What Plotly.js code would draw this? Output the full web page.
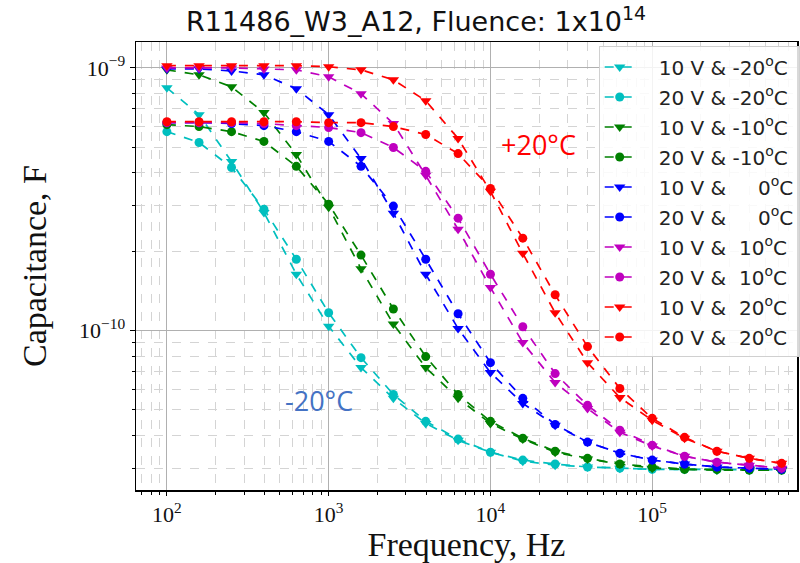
<!DOCTYPE html>
<html>
<head>
<meta charset="utf-8">
<script src="https://cdn.plot.ly/plotly-3.0.1.min.js"></script>
<style>html,body{margin:0;padding:0;background:#fff;}#chart{width:800px;height:563px;}</style>
</head>
<body>
<div id="chart"></div>
<script>
const freqHz = [100, 158, 251, 398, 631, 1000, 1585, 2512, 3981, 6310, 10000, 15849, 25119, 39811, 63096, 100000, 158489, 251189, 398107, 630957];

const c10V_m20 = [8.40e-10, 6.64e-10, 4.40e-10, 2.82e-10, 1.64e-10, 1.04e-10, 7.24e-11, 5.53e-11, 4.44e-11, 3.83e-11, 3.45e-11, 3.19e-11, 3.08e-11, 3.03e-11, 3.00e-11, 2.97e-11, 2.97e-11, 2.96e-11, 2.96e-11, 2.96e-11];
const c20V_m20 = [5.72e-10, 5.20e-10, 4.18e-10, 2.90e-10, 1.87e-10, 1.17e-10, 7.90e-11, 5.72e-11, 4.52e-11, 3.87e-11, 3.45e-11, 3.22e-11, 3.11e-11, 3.03e-11, 3.00e-11, 2.97e-11, 2.97e-11, 2.96e-11, 2.95e-11, 2.95e-11];
const c10V_m10 = [9.83e-10, 9.41e-10, 8.47e-10, 6.76e-10, 4.68e-10, 2.95e-10, 1.72e-10, 1.06e-10, 7.24e-11, 5.53e-11, 4.44e-11, 3.87e-11, 3.45e-11, 3.25e-11, 3.11e-11, 3.00e-11, 2.97e-11, 2.95e-11, 2.95e-11, 2.95e-11];
const c20V_m10 = [6.08e-10, 5.98e-10, 5.72e-10, 5.25e-10, 4.22e-10, 3.03e-10, 1.94e-10, 1.21e-10, 7.97e-11, 5.72e-11, 4.52e-11, 3.90e-11, 3.48e-11, 3.27e-11, 3.11e-11, 3.03e-11, 2.97e-11, 2.97e-11, 2.95e-11, 2.95e-11];
const c10V_0 = [9.91e-10, 9.91e-10, 9.74e-10, 9.41e-10, 8.33e-10, 6.64e-10, 4.52e-10, 2.80e-10, 1.64e-10, 1.02e-10, 6.93e-11, 5.29e-11, 4.37e-11, 3.77e-11, 3.42e-11, 3.22e-11, 3.11e-11, 3.03e-11, 3.00e-11, 2.97e-11];
const c20V_0 = [6.19e-10, 6.19e-10, 6.14e-10, 6.03e-10, 5.72e-10, 5.25e-10, 4.22e-10, 2.98e-10, 1.87e-10, 1.16e-10, 7.56e-11, 5.53e-11, 4.40e-11, 3.77e-11, 3.42e-11, 3.22e-11, 3.11e-11, 3.03e-11, 3.00e-11, 2.97e-11];
const c10V_10 = [1.00e-9, 1.00e-9, 1.00e-9, 9.91e-10, 9.83e-10, 9.25e-10, 7.97e-10, 6.14e-10, 3.90e-10, 2.43e-10, 1.46e-10, 9.01e-11, 6.35e-11, 5.06e-11, 4.11e-11, 3.64e-11, 3.33e-11, 3.16e-11, 3.08e-11, 3.00e-11];
const c20V_10 = [6.19e-10, 6.19e-10, 6.19e-10, 6.14e-10, 6.03e-10, 5.93e-10, 5.67e-10, 4.98e-10, 4.04e-10, 2.68e-10, 1.64e-10, 1.035e-10, 6.87e-11, 5.20e-11, 4.18e-11, 3.67e-11, 3.33e-11, 3.16e-11, 3.08e-11, 3.00e-11];
const c10V_20 = [1.02e-9, 1.02e-9, 1.02e-9, 1.02e-9, 1.02e-9, 1.01e-9, 9.83e-10, 9.01e-10, 7.50e-10, 5.39e-10, 3.39e-10, 1.97e-10, 1.17e-10, 7.56e-11, 5.57e-11, 4.56e-11, 3.90e-11, 3.48e-11, 3.27e-11, 3.13e-11];
const c20V_20 = [6.24e-10, 6.24e-10, 6.24e-10, 6.24e-10, 6.24e-10, 6.19e-10, 6.19e-10, 5.98e-10, 5.58e-10, 4.72e-10, 3.48e-10, 2.25e-10, 1.37e-10, 8.70e-11, 6.03e-11, 4.64e-11, 3.93e-11, 3.48e-11, 3.27e-11, 3.13e-11];

const seriesNames = [
  "10 V & -20<sup>o</sup>C", "20 V & -20<sup>o</sup>C",
  "10 V & -10<sup>o</sup>C", "20 V & -10<sup>o</sup>C",
  "10 V &\u00a0\u00a0\u00a0\u00a0\u00a00<sup>o</sup>C", "20 V &\u00a0\u00a0\u00a0\u00a0\u00a00<sup>o</sup>C",
  "10 V &\u00a0\u00a010<sup>o</sup>C", "20 V &\u00a0\u00a010<sup>o</sup>C",
  "10 V &\u00a0\u00a020<sup>o</sup>C", "20 V &\u00a0\u00a020<sup>o</sup>C"
];
const seriesValues = [c10V_m20, c20V_m20, c10V_m10, c20V_m10, c10V_0, c20V_0, c10V_10, c20V_10, c10V_20, c20V_20];
const seriesColors = ["#00BFBF", "#00BFBF", "#008000", "#008000", "#0000FF", "#0000FF", "#BF00BF", "#BF00BF", "#FF0000", "#FF0000"];
const seriesSymbols = ["triangle-down", "circle", "triangle-down", "circle", "triangle-down", "circle", "triangle-down", "circle", "triangle-down", "circle"];

const xTickVals = [100, 1000, 10000, 100000];
const xTickText = ["10<sup>2</sup>", "10<sup>3</sup>", "10<sup>4</sup>", "10<sup>5</sup>"];
const yTickVals = [1e-10, 1e-9];
const yTickText = ["10<sup>\u221210</sup>", "10<sup>\u22129</sup>"];
const minorMultipliers = [2, 3, 4, 5, 6, 7, 8, 9];

function minorTicks(decades) {
  const out = [];
  decades.forEach(d => minorMultipliers.forEach(m => out.push(m * d)));
  return out;
}
const xMinor = minorTicks([10, 100, 1000, 10000, 100000]);
const yMinor = minorTicks([1e-11, 1e-10, 1e-9]);

const traces = seriesValues.map((vals, i) => ({
  x: freqHz,
  y: vals,
  type: "scatter",
  mode: "lines+markers",
  name: "\u00a0\u00a0\u00a0" + seriesNames[i],
  legendgroup: "g" + i,
  line: {color: seriesColors[i], dash: "dash", width: 1.7},
  marker: {color: seriesColors[i], symbol: seriesSymbols[i], size: seriesSymbols[i] === "circle" ? 9 : 10}
}));

const layout = {
  width: 800, height: 563,
  paper_bgcolor: "#fff", plot_bgcolor: "#fff",
  margin: {l: 136, r: 0, t: 42, b: 73},
  title: {text: "R11486_W3_A12, Fluence: 1x10<sup>14</sup>", font: {family: "DejaVu Sans", size: 27, color: "#111"}, x: 0.52, xanchor: "center", y: 0.978, yanchor: "top"},
  showlegend: true,
  legend: {
    x: 0.70, xanchor: "left", y: 0.99, yanchor: "top",
    bgcolor: "rgba(255,255,255,0.85)", bordercolor: "#d0d0d0", borderwidth: 1,
    font: {family: "DejaVu Sans", size: 20, color: "#222"},
    tracegroupgap: 1
  },
  xaxis: {
    type: "log", range: [1.809, 5.895],
    tickvals: xTickVals, ticktext: xTickText,
    tickfont: {family: "Liberation Serif", size: 22, color: "#111"},
    showline: true, linecolor: "#000", linewidth: 1.5, mirror: true,
    ticks: "outside", ticklen: 4, tickcolor: "#000",
    showgrid: true, gridcolor: "#b0b0b0", gridwidth: 1,
    minor: {tickvals: xMinor, showgrid: true, gridcolor: "#d4d4d4", griddash: "dash", ticks: "outside", ticklen: 3, tickcolor: "#000"},
    zeroline: false,
    title: {text: "Frequency, Hz", font: {family: "Liberation Serif", size: 34, color: "#111"}, standoff: 6}
  },
  yaxis: {
    type: "log", range: [-10.606, -8.9015],
    tickvals: yTickVals, ticktext: yTickText,
    tickfont: {family: "Liberation Serif", size: 22, color: "#111"},
    showline: true, linecolor: "#000", linewidth: 1.5, mirror: true,
    ticks: "outside", ticklen: 5, tickcolor: "#000",
    showgrid: true, gridcolor: "#b0b0b0", gridwidth: 1,
    minor: {tickvals: yMinor, showgrid: true, gridcolor: "#d4d4d4", griddash: "dash", ticks: "outside", ticklen: 3, tickcolor: "#000"},
    zeroline: false,
    title: {text: "Capacitance, F", font: {family: "Liberation Serif", size: 34, color: "#111"}, standoff: 22}
  },
  annotations: [
    {x: Math.log10(19700), y: Math.log10(5.11e-10), xref: "x", yref: "y", text: "+20\u00b0C", showarrow: false, font: {family: "Open Sans", size: 27, color: "#FF0000"}},
    {x: Math.log10(873), y: Math.log10(5.43e-11), xref: "x", yref: "y", text: "-20\u00b0C", showarrow: false, font: {family: "Open Sans", size: 27, color: "#4472C4"}}
  ]
};

Plotly.newPlot("chart", traces, layout, {displayModeBar: false, staticPlot: true});
</script>
</body>
</html>
